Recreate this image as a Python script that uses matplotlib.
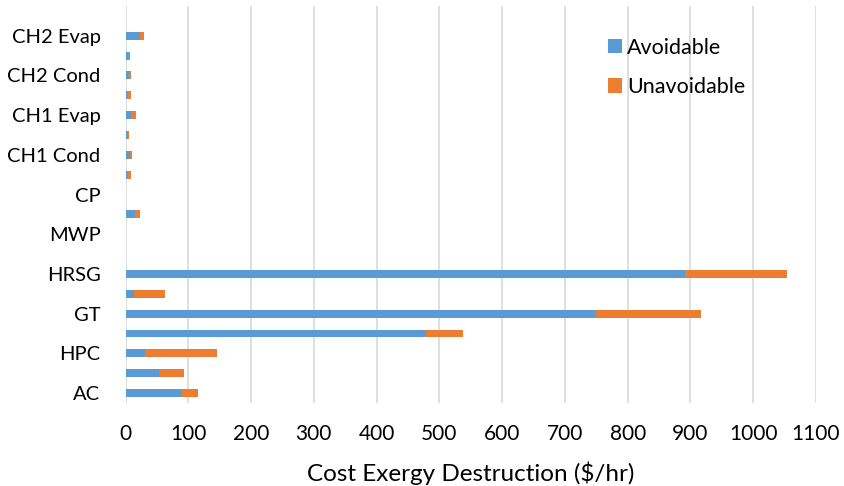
import numpy as np
import matplotlib.pyplot as plt

plt.rcParams['font.family'] = ['Lato', 'DejaVu Sans']

# components from bottom to top; every other one gets a tick label
categories = ['AC', '', 'HPC', '', 'GT', '', 'HRSG', '', 'MWP', '',
              'CP', '', 'CH1 Cond', '', 'CH1 Evap', '', 'CH2 Cond', '', 'CH2 Evap', '']

# cost of exergy destruction ($/hr)
avoidable = [88.5, 53.4, 31.6, 478, 749, 13.5, 891, 0, 0, 15.6,
             0.5, 2.4, 7.2, 4.5, 9.3, 2.4, 5.6, 6, 23.4, 0]
unavoidable = [27.1, 39.6, 114.4, 60, 168, 49.5, 163.5, 0, 0, 7.0,
               0.5, 5.9, 3.2, 1.5, 7.9, 5.9, 3.2, 1, 5.6, 0]

xticks = np.arange(0, 1101, 100)

blue = '#5B9BD5'
orange = '#ED7D31'

fig = plt.figure(figsize=(8.44, 4.86), dpi=100)
ax = fig.add_axes([0.1487, 0.1708, 0.8181, 0.8169])

y = np.arange(len(categories))
ax.barh(y, avoidable, height=0.4, color=blue, label='Avoidable', zorder=3)
ax.barh(y, unavoidable, left=avoidable, height=0.4, color=orange,
        label='Unavoidable', zorder=3)

ax.set_xlim(0, 1100)
ax.set_ylim(-0.5, len(categories) - 0.5)
ax.set_xticks(xticks)
ax.set_yticks(y[::2])
ax.set_yticklabels(categories[::2])
ax.tick_params(axis='both', length=0, colors='#000000')
ax.tick_params(axis='x', labelsize=15, pad=15)
ax.tick_params(axis='y', labelsize=14.5, pad=18)

ax.grid(axis='x', color='#D9D9D9', linewidth=1.2, zorder=0)
for s in ax.spines.values():
    s.set_visible(False)

ax.set_xlabel('Cost Exergy Destruction ($/hr)', fontsize=17.5, labelpad=13)

ax.legend(loc='upper left', bbox_to_anchor=(0.683, 0.947), frameon=False,
          fontsize=15.5, handlelength=0.65, handleheight=0.65,
          handletextpad=0.25, labelspacing=0.9, borderpad=0)

fig.savefig('out.png', dpi=100)
